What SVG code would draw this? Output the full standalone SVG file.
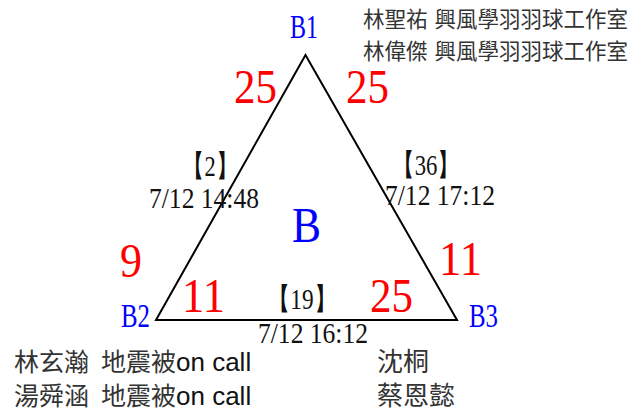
<svg xmlns="http://www.w3.org/2000/svg" width="644" height="417" viewBox="0 0 644 417">
<style>
.s{font-family:"Liberation Serif","Times New Roman",serif}
.node{fill:#0000ff}
.num{fill:#ff0000;font-size:48px}
.lbl{fill:#111;font-size:30px}
.date{fill:#111;font-size:29px}
.cjk{font-family:"Noto Sans CJK TC","Noto Sans CJK SC",sans-serif;fill:#333}
.lat{font-family:"Liberation Sans",Arial,sans-serif;fill:#111}
.edge{fill:none;stroke:#000;stroke-width:2}
</style>
<rect width="644" height="417" fill="#fff"/>
<g id="connectors">
<path class="edge" d="M305.5,55 L156,320 L457,320 Z"/>
</g>
<g id="node-B1"><text class="s node" x="290" y="38" font-size="33" textLength="28" lengthAdjust="spacingAndGlyphs">B1</text></g>
<g id="node-B2"><text class="s node" x="121" y="327" font-size="33" textLength="29" lengthAdjust="spacingAndGlyphs">B2</text></g>
<g id="node-B3"><text class="s node" x="469" y="327" font-size="33" textLength="29" lengthAdjust="spacingAndGlyphs">B3</text></g>
<g id="node-B"><text class="s node" x="292" y="242" font-size="51" textLength="29" lengthAdjust="spacingAndGlyphs">B</text></g>
<g id="edge-B1-B2">
<text class="s num" x="234" y="103" textLength="43" lengthAdjust="spacingAndGlyphs">25</text>
<text class="s lbl" x="182" y="176" textLength="56" lengthAdjust="spacingAndGlyphs">【2】</text>
<text class="s date" x="149" y="208" textLength="110" lengthAdjust="spacingAndGlyphs">7/12 14:48</text>
<text class="s num" x="120" y="277" textLength="22" lengthAdjust="spacingAndGlyphs">9</text>
<text class="s num" x="182" y="312" textLength="43" lengthAdjust="spacingAndGlyphs">11</text>
</g>
<g id="edge-B1-B3">
<text class="s num" x="346" y="103" textLength="43" lengthAdjust="spacingAndGlyphs">25</text>
<text class="s lbl" x="392" y="175" textLength="68" lengthAdjust="spacingAndGlyphs">【36】</text>
<text class="s date" x="385" y="205" textLength="110" lengthAdjust="spacingAndGlyphs">7/12 17:12</text>
<text class="s num" x="439" y="275" textLength="43" lengthAdjust="spacingAndGlyphs">11</text>
</g>
<g id="edge-B2-B3">
<text class="s lbl" x="267" y="309" textLength="70" lengthAdjust="spacingAndGlyphs">【19】</text>
<text class="s date" x="258" y="343" textLength="110" lengthAdjust="spacingAndGlyphs">7/12 16:12</text>
<text class="s num" x="370" y="312" textLength="43" lengthAdjust="spacingAndGlyphs">25</text>
</g>
<g id="note-B1">
<text class="cjk" font-size="21.5" y="26.5"><tspan x="363">林聖祐</tspan><tspan x="434.5">興風學羽羽球工作室</tspan></text>
<text class="cjk" font-size="21.5" y="58.5"><tspan x="363">林偉傑</tspan><tspan x="434.5">興風學羽羽球工作室</tspan></text>
</g>
<g id="note-B2">
<text class="cjk" font-size="25" y="371"><tspan x="14">林玄瀚</tspan><tspan x="101">地震被</tspan><tspan class="lat" font-size="26">on call</tspan></text>
<text class="cjk" font-size="25" y="405"><tspan x="14">湯舜涵</tspan><tspan x="101">地震被</tspan><tspan class="lat" font-size="26">on call</tspan></text>
</g>
<g id="note-B3">
<text class="cjk" font-size="26" x="377" y="371">沈桐</text>
<text class="cjk" font-size="26" x="377" y="405">蔡恩懿</text>
</g>
</svg>
